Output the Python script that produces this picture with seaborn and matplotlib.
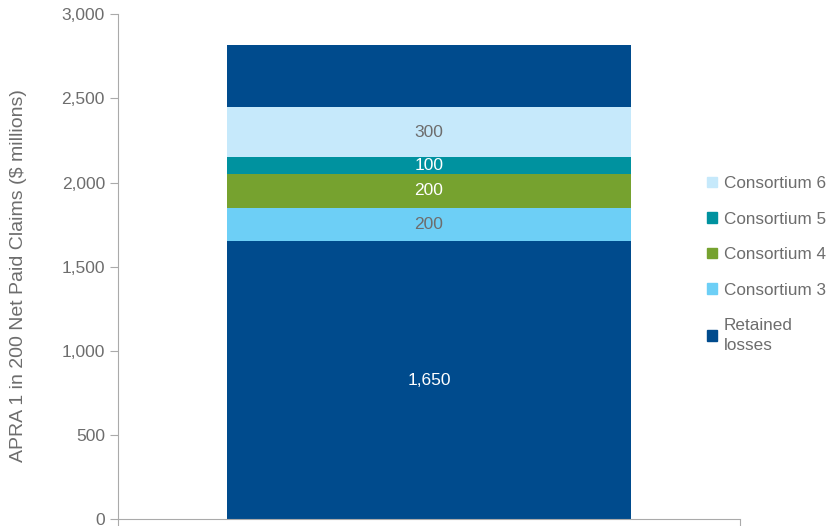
import matplotlib
matplotlib.use("Agg")
from matplotlib import pyplot as plt
from matplotlib.patches import Patch
import seaborn as sns

# stacked segments, bottom to top
segments = ["Retained losses", "Consortium 3", "Consortium 4", "Consortium 5", "Consortium 6", "Retained losses"]
values = [1650, 200, 200, 100, 300, 365]
labels = ["1,650", "200", "200", "100", "300", ""]
colors = ["#004B8D", "#6DCFF6", "#76A22F", "#00929F", "#C6E9FB", "#004B8D"]
label_colors = ["white", "#6d6d6d", "white", "white", "#6d6d6d", "white"]

legend_names = ["Consortium 6", "Consortium 5", "Consortium 4", "Consortium 3", "Retained\nlosses"]
legend_colors = ["#C6E9FB", "#00929F", "#76A22F", "#6DCFF6", "#004B8D"]

sns.set_style("white")
plt.rcParams["font.family"] = ["Liberation Sans", "DejaVu Sans"]
grey = "#6d6d6d"

fig = plt.figure(figsize=(8.32, 5.26), dpi=100)
ax = fig.add_axes([0.142, 0.013, 0.747, 0.96])

base = 0
for seg, val, lab, col, lc in zip(segments, values, labels, colors, label_colors):
    sns.barplot(x=["claims"], y=[val], bottom=base, color=col, width=0.65,
                saturation=1, ax=ax, edgecolor="none")
    if lab:
        ax.text(0, base + val / 2, lab, ha="center", va="center",
                color=lc, fontsize=12.5)
    base += val

ax.set_xlim(-0.5, 0.5)
ax.set_ylim(0, 3000)
ax.set_yticks(range(0, 3001, 500))
ax.set_yticklabels([f"{v:,}" for v in range(0, 3001, 500)])
ax.set_xticks([-0.5, 0.5])
ax.set_xticklabels([])
ax.set_xlabel("")
ax.set_ylabel("APRA 1 in 200 Net Paid Claims ($ millions)", color=grey, fontsize=14)
ax.yaxis.set_label_coords(-0.147, 0.483)
ax.tick_params(axis="y", colors="#aaaaaa", labelcolor=grey, labelsize=12.5, length=6, direction="out", left=True)
ax.tick_params(axis="x", colors="#aaaaaa", length=6, direction="out", bottom=True)

for s in ["top", "right"]:
    ax.spines[s].set_visible(False)
for s in ["left", "bottom"]:
    ax.spines[s].set_color("#aaaaaa")

handles = [Patch(color=c) for c in legend_colors]
leg = ax.legend(handles, legend_names, loc="upper left", bbox_to_anchor=(0.922, 0.71),
                frameon=False, fontsize=12.3, handlelength=0.6, handleheight=0.6,
                handletextpad=0.4, labelspacing=1.2)
for t in leg.get_texts():
    t.set_color(grey)
    t.set_linespacing(1.45)

fig.savefig("out.png", dpi=100)
